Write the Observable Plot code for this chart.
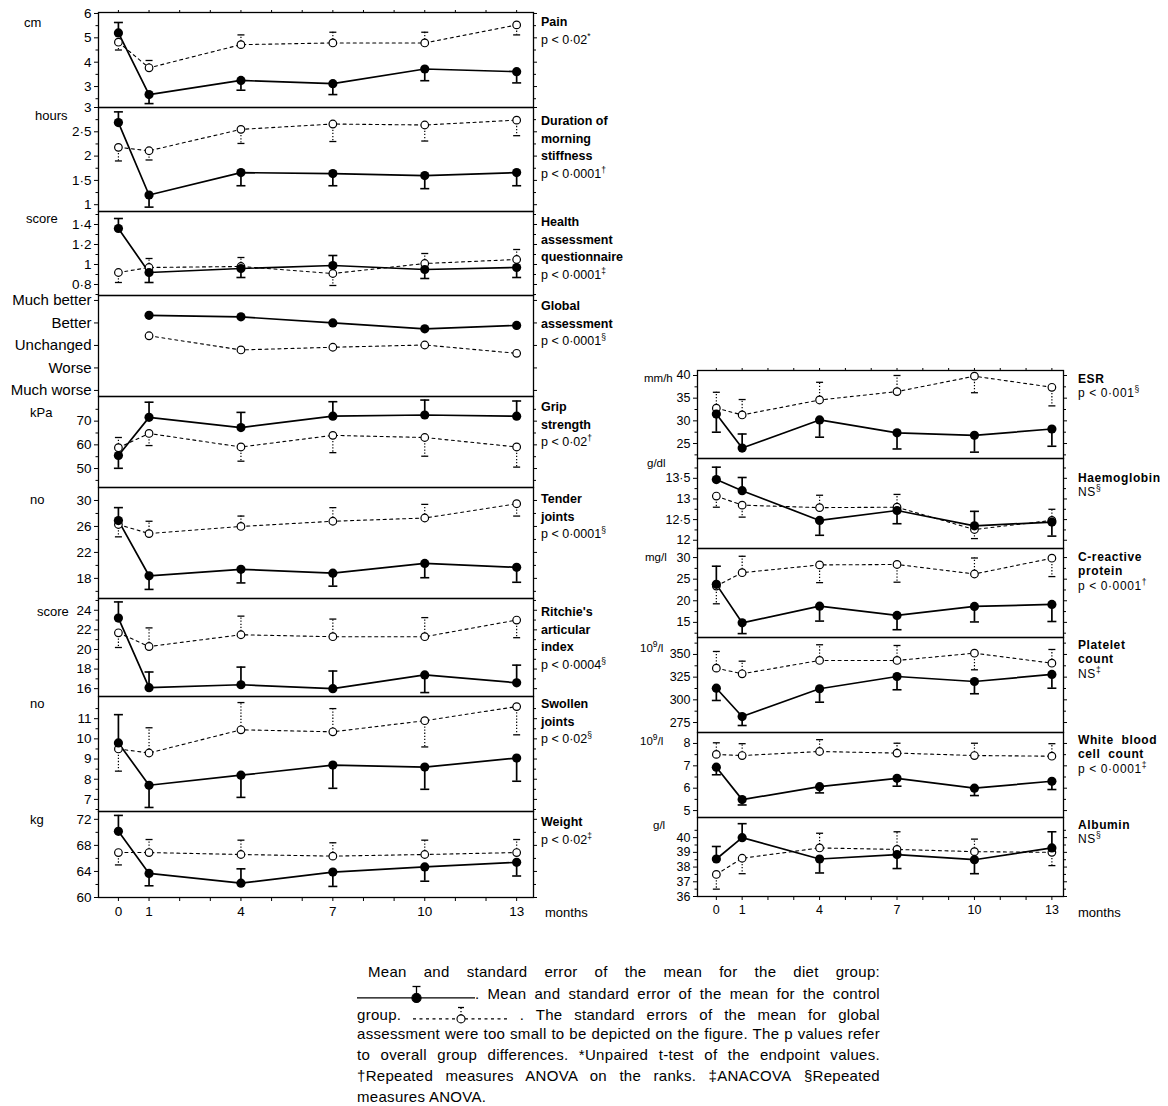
<!DOCTYPE html>
<html><head><meta charset="utf-8">
<script src="https://cdn.jsdelivr.net/npm/d3@7"></script>
<script src="https://cdn.jsdelivr.net/npm/@observablehq/plot@0.6"></script>
<style>
body{margin:0;background:#fff;color:#000;font-family:"Liberation Sans",Arial,sans-serif}
#root{position:relative;width:1168px;height:1106px;overflow:hidden;background:#fff}
.lab{position:absolute;white-space:nowrap;color:#000}
.unit{font-size:13px;line-height:16px}
.unitR{font-size:11.5px;line-height:16px}
.tl{font-size:12.5px;line-height:17.5px}
.tl b{font-weight:bold}
.tr{font-size:12px;line-height:14.5px;letter-spacing:0.6px}
.tr b{font-weight:bold}
sup{font-size:8.5px;line-height:0;vertical-align:5px}
#cap{position:absolute;left:357px;top:962px;width:523px;font-size:15px;line-height:20.8px;letter-spacing:0.3px}
#cap div{text-align:justify;text-align-last:justify;white-space:nowrap;height:20.8px}
#cap div.last{text-align-last:left}
#cap svg{display:inline-block;vertical-align:-4px}
#cap span.kw{display:inline-block}
</style>
</head><body><div id="root"></div>
<script>
// ---------- data ----------
const months = [0, 1, 4, 7, 10, 13];
const monthLabels = [0, 1, 4, 7, 10, 13];

const painDiet = [5.2, 2.67, 3.25, 3.12, 3.72, 3.61];
const painDietErr = [5.63, 2.3, 2.85, 2.67, 3.24, 3.15];
const painCtrl = [4.82, 3.77, 4.72, 4.79, 4.79, 5.53];
const painCtrlErr = [4.5, 4.07, 5.12, 5.23, 5.23, 5.12];
const painTicks = [3, 4, 5, 6];

const stiffDiet = [2.69, 1.2, 1.66, 1.64, 1.6, 1.66];
const stiffDietErr = [2.91, 0.95, 1.39, 1.39, 1.33, 1.39];
const stiffCtrl = [2.18, 2.11, 2.55, 2.66, 2.64, 2.74];
const stiffCtrlErr = [1.9, 1.92, 2.26, 2.3, 2.31, 2.42];
const stiffTicks = [1, 1.5, 2, 2.5, 3];

const haqDiet = [1.36, 0.92, 0.96, 0.99, 0.95, 0.97];
const haqDietErr = [1.46, 0.82, 0.87, 1.09, 0.86, 0.87];
const haqCtrl = [0.92, 0.97, 0.98, 0.91, 1.01, 1.05];
const haqCtrlErr = [0.82, 1.06, 1.07, 0.79, 1.11, 1.15];
const haqTicks = [0.8, 1, 1.2, 1.4];

const globalDiet = [null, 4.34, 4.27, 4.0, 3.74, 3.89];
const globalCtrl = [null, 3.43, 2.8, 2.92, 3.02, 2.65];
const globalTicks = [1, 2, 3, 4, 5];
const globalCategories = ["Much worse", "Worse", "Unchanged", "Better", "Much better"];

const gripDiet = [55.5, 71.6, 67.3, 72.1, 72.6, 72.1];
const gripDietErr = [50.1, 78, 73.7, 78.2, 78.9, 78.5];
const gripCtrl = [58.8, 64.8, 59.1, 64.0, 63.1, 59.1];
const gripCtrlErr = [63.1, 59.7, 53.1, 56.7, 55.2, 50.6];
const gripTicks = [50, 60, 70];

const tenderDiet = [26.9, 18.4, 19.4, 18.8, 20.3, 19.7];
const tenderDietErr = [28.9, 16.3, 17.3, 16.8, 18.1, 17.4];
const tenderCtrl = [26.3, 24.9, 26.0, 26.8, 27.3, 29.5];
const tenderCtrlErr = [24.4, 26.8, 27.6, 28.9, 29.4, 27.6];
const tenderTicks = [18, 22, 26, 30];

const ritchieDiet = [23.2, 16.1, 16.4, 16.0, 17.4, 16.6];
const ritchieDietErr = [24.85, 17.7, 18.2, 17.8, 15.6, 18.4];
const ritchieCtrl = [21.7, 20.3, 21.5, 21.3, 21.3, 23.0];
const ritchieCtrlErr = [20.2, 22.2, 23.4, 23.1, 23.25, 21.2];
const ritchieTicks = [16, 18, 20, 22, 24];

const swollenDiet = [9.8, 7.7, 8.2, 8.7, 8.6, 9.05];
const swollenDietErr = [11.2, 6.6, 7.1, 7.55, 7.5, 7.9];
const swollenCtrl = [9.5, 9.3, 10.45, 10.35, 10.9, 11.6];
const swollenCtrlErr = [8.4, 10.55, 11.8, 11.5, 9.6, 10.2];
const swollenTicks = [7, 8, 9, 10, 11];

const weightDiet = [70.15, 63.7, 62.2, 63.9, 64.7, 65.4];
const weightDietErr = [72.6, 61.8, 64.4, 61.7, 62.5, 63.3];
const weightCtrl = [66.9, 66.9, 66.6, 66.35, 66.6, 66.9];
const weightCtrlErr = [65.0, 68.9, 68.8, 68.4, 68.8, 68.9];
const weightTicks = [60, 64, 68, 72];

const esrDiet = [31.5, 24.0, 30.2, 27.35, 26.8, 28.2];
const esrDietErr = [27.5, 27.1, 26.4, 23.8, 23.1, 24.4];
const esrCtrl = [32.8, 31.3, 34.6, 36.45, 39.85, 37.4];
const esrCtrlErr = [36.3, 34.7, 38.5, 40.0, 36.2, 33.3];
const esrTicks = [25, 30, 35, 40];

const hbDiet = [13.47, 13.2, 12.48, 12.72, 12.35, 12.44];
const hbDietErr = [13.77, 13.52, 12.12, 12.4, 12.7, 12.1];
const hbCtrl = [13.07, 12.85, 12.79, 12.8, 12.26, 12.48];
const hbCtrlErr = [12.8, 12.56, 13.09, 13.11, 12.04, 12.75];
const hbTicks = [12, 12.5, 13, 13.5];

const crpDiet = [23.8, 14.9, 18.75, 16.6, 18.7, 19.15];
const crpDietErr = [28.0, 12.4, 15.3, 13.3, 15.1, 15.2];
const crpCtrl = [23.4, 26.5, 28.3, 28.4, 26.2, 29.85];
const crpCtrlErr = [19.3, 30.3, 24.2, 24.3, 29.9, 25.6];
const crpTicks = [15, 20, 25, 30];

const pltDiet = [312.8, 281.6, 312.2, 325.7, 320.2, 328];
const pltDietErr = [299.3, 271.7, 297.4, 311.1, 306.7, 312.8];
const pltCtrl = [334.9, 328.7, 343.4, 343.4, 351.4, 340.4];
const pltCtrlErr = [353.3, 342.6, 360.7, 359.9, 333.1, 355.5];
const pltTicks = [275, 300, 325, 350];

const wbcDiet = [6.94, 5.49, 6.07, 6.44, 6.0, 6.31];
const wbcDietErr = [6.6, 5.25, 5.79, 6.09, 5.67, 5.94];
const wbcCtrl = [7.51, 7.46, 7.64, 7.57, 7.46, 7.43];
const wbcCtrlErr = [8.03, 7.99, 8.17, 8.01, 8.01, 7.99];
const wbcTicks = [5, 6, 7, 8];

const albDiet = [38.55, 40.0, 38.55, 38.85, 38.5, 39.3];
const albDietErr = [39.4, 40.95, 37.6, 37.9, 37.55, 40.4];
const albCtrl = [37.5, 38.6, 39.3, 39.2, 39.05, 39.0];
const albCtrlErr = [36.5, 37.55, 40.3, 40.4, 39.9, 38.1];
const albTicks = [36, 37, 38, 39, 40];

// ---------- layout ----------
const root = document.getElementById("root");
const FONT = '"Liberation Sans", Arial, sans-serif';
const dec = d => String(d).replace(".", "\u00b7");

const leftCol = {left: 0, width: 640, ml: 98, mr: 107, xdom: [-0.65, 13.55], font: 13.5, titleX: 541, monthsX: 545, tcls: "tl", lh: 17.5, ucls: "unit"};
const rightCol = {left: 600, width: 500, ml: 97, mr: 37, xdom: [-0.73, 13.45], font: 12.5, titleX: 1078, monthsX: 1078, tcls: "tr", lh: 14.5, ucls: "unitR"};

const leftPanels = [
  {diet: painDiet, dietErr: painDietErr, ctrl: painCtrl, ctrlErr: painCtrlErr, ticks: painTicks, domain: [2.14, 6.04], top: 12, bottom: 107,
   unit: "cm", ux: 24, uy: 23, title: ["Pain"], p: "p < 0\u00b702<sup>*</sup>", ty: 23},
  {diet: stiffDiet, dietErr: stiffDietErr, ctrl: stiffCtrl, ctrlErr: stiffCtrlErr, ticks: stiffTicks, domain: [0.86, 3.0], top: 107, bottom: 211,
   unit: "hours", ux: 35, uy: 116, title: ["Duration of", "morning", "stiffness"], p: "p < 0\u00b70001<sup>\u2020</sup>", ty: 122},
  {diet: haqDiet, dietErr: haqDietErr, ctrl: haqCtrl, ctrlErr: haqCtrlErr, ticks: haqTicks, domain: [0.69, 1.53], top: 211, bottom: 295,
   unit: "score", ux: 26, uy: 219, title: ["Health", "assessment", "questionnaire"], p: "p < 0\u00b70001<sup>\u2021</sup>", ty: 223},
  {diet: globalDiet, dietErr: null, ctrl: globalCtrl, ctrlErr: null, ticks: globalTicks, domain: [0.73, 5.22], top: 295, bottom: 396,
   fmt: d => globalCategories[d - 1], noMinor: true, fontSize: 15,
   unit: "", title: ["Global", "assessment"], p: "p < 0\u00b70001<sup>\u00a7</sup>", ty: 307},
  {diet: gripDiet, dietErr: gripDietErr, ctrl: gripCtrl, ctrlErr: gripCtrlErr, ticks: gripTicks, domain: [42, 80.4], top: 396, bottom: 487,
   unit: "kPa", ux: 30, uy: 413, title: ["Grip", "strength"], p: "p < 0\u00b702<sup>\u2020</sup>", ty: 408},
  {diet: tenderDiet, dietErr: tenderDietErr, ctrl: tenderCtrl, ctrlErr: tenderCtrlErr, ticks: tenderTicks, domain: [14.9, 32], top: 487, bottom: 598,
   unit: "no", ux: 30, uy: 500, title: ["Tender", "joints"], p: "p < 0\u00b70001<sup>\u00a7</sup>", ty: 500},
  {diet: ritchieDiet, dietErr: ritchieDietErr, ctrl: ritchieCtrl, ctrlErr: ritchieCtrlErr, ticks: ritchieTicks, domain: [15.2, 25.2], top: 598, bottom: 696,
   unit: "score", ux: 37, uy: 612, title: ["Ritchie's", "articular", "index"], p: "p < 0\u00b70004<sup>\u00a7</sup>", ty: 613},
  {diet: swollenDiet, dietErr: swollenDietErr, ctrl: swollenCtrl, ctrlErr: swollenCtrlErr, ticks: swollenTicks, domain: [6.4, 12.1], top: 696, bottom: 811,
   unit: "no", ux: 30, uy: 704, title: ["Swollen", "joints"], p: "p < 0\u00b702<sup>\u00a7</sup>", ty: 705},
  {diet: weightDiet, dietErr: weightDietErr, ctrl: weightCtrl, ctrlErr: weightCtrlErr, ticks: weightTicks, domain: [60, 73.2], top: 811, bottom: 897,
   unit: "kg", ux: 30, uy: 820, title: ["Weight"], p: "p < 0\u00b702<sup>\u2021</sup>", ty: 823}
];

const rightPanels = [
  {diet: esrDiet, dietErr: esrDietErr, ctrl: esrCtrl, ctrlErr: esrCtrlErr, ticks: esrTicks, domain: [21.7, 41.1], top: 370, bottom: 458,
   unit: "mm/h", ux: 644, uy: 378, title: ["ESR"], p: "p < 0\u00b7001<sup>\u00a7</sup>", ty: 379},
  {diet: hbDiet, dietErr: hbDietErr, ctrl: hbCtrl, ctrlErr: hbCtrlErr, ticks: hbTicks, domain: [11.8, 13.98], top: 458, bottom: 548,
   unit: "g/dl", ux: 647, uy: 463, title: ["Haemoglobin"], p: "NS<sup>\u00a7</sup>", ty: 478},
  {diet: crpDiet, dietErr: crpDietErr, ctrl: crpCtrl, ctrlErr: crpCtrlErr, ticks: crpTicks, domain: [11.5, 32.1], top: 548, bottom: 637,
   unit: "mg/l", ux: 645, uy: 557, title: ["C-reactive", "protein"], p: "p < 0\u00b70001<sup>\u2020</sup>", ty: 557},
  {diet: pltDiet, dietErr: pltDietErr, ctrl: pltCtrl, ctrlErr: pltCtrlErr, ticks: pltTicks, domain: [264, 368.7], top: 637, bottom: 732,
   unit: "10<sup>9</sup>/l", ux: 640, uy: 648, title: ["Platelet", "count"], p: "NS<sup>\u2021</sup>", ty: 645},
  {diet: wbcDiet, dietErr: wbcDietErr, ctrl: wbcCtrl, ctrlErr: wbcCtrlErr, ticks: wbcTicks, domain: [4.69, 8.49], top: 732, bottom: 817,
   unit: "10<sup>9</sup>/l", ux: 640, uy: 741, title: ["White  blood", "cell  count"], p: "p < 0\u00b70001<sup>\u2021</sup>", ty: 740},
  {diet: albDiet, dietErr: albDietErr, ctrl: albCtrl, ctrlErr: albCtrlErr, ticks: albTicks, domain: [36, 41.37], top: 817, bottom: 896,
   unit: "g/l", ux: 653, uy: 825, title: ["Albumin"], p: "NS<sup>\u00a7</sup>", ty: 825}
];

// error-bar cap: a short horizontal stroke, half-width = r
const cap = {draw(ctx, size) { const w = Math.sqrt(size / Math.PI); ctx.moveTo(-w, 0); ctx.lineTo(w, 0); }};

function addLabel(x, y, html, cls, lh) {
  const d = document.createElement("div");
  d.className = "lab " + cls;
  d.style.left = x + "px";
  d.style.top = (y - lh / 2) + "px";
  d.innerHTML = html;
  root.append(d);
}

function makePanel(p, col, first, last) {
  const pad = 6, mb = last ? 34 : pad;
  const rows = (vals, errs) => months.map((m, i) => ({m, v: vals[i], e: errs ? errs[i] : null})).filter(d => d.v != null);
  const diet = rows(p.diet, p.dietErr), ctrl = rows(p.ctrl, p.ctrlErr);
  const dietE = diet.filter(d => d.e != null), ctrlE = ctrl.filter(d => d.e != null);
  const step = p.ticks[1] - p.ticks[0];
  const minor = p.noMinor ? [] : d3.range(p.ticks[0] - step / 2, p.domain[1], step).filter(v => v > p.domain[0]);
  const fmt = p.fmt || dec;
  const fs = p.fontSize || col.font;
  const allMonths = d3.range(0, 14);
  const marks = [
    Plot.frame({stroke: "#000", strokeWidth: 1.3}),
    Plot.axisY({anchor: "left", ticks: p.ticks, tickSize: 4, tickPadding: 3, tickFormat: fmt, fontSize: fs, label: null}),
    Plot.axisY({anchor: "right", ticks: p.ticks, tickSize: 3, tickFormat: () => "", label: null})
  ];
  if (minor.length) {
    marks.push(Plot.axisY({anchor: "left", ticks: minor, tickSize: 2.5, tickFormat: () => "", label: null}));
    marks.push(Plot.axisY({anchor: "right", ticks: minor, tickSize: 2, tickFormat: () => "", label: null}));
  }
  if (first) marks.push(Plot.axisX({anchor: "top", ticks: allMonths, tickSize: 3, tickFormat: () => "", label: null}));
  if (last) marks.push(Plot.axisX({anchor: "bottom", ticks: allMonths, tickSize: 4, tickPadding: 5,
    tickFormat: d => monthLabels.includes(d) ? String(d) : "", fontSize: col.font, label: null}));
  marks.push(
    Plot.line(ctrl, {x: "m", y: "v", stroke: "#000", strokeWidth: 1.1, strokeDasharray: "3,3.5"}),
    Plot.line(diet, {x: "m", y: "v", stroke: "#000", strokeWidth: 1.7}),
    Plot.ruleX(ctrlE, {x: "m", y1: "v", y2: "e", stroke: "#000", strokeWidth: 1.2, strokeDasharray: "1.3,1.8"}),
    Plot.dot(ctrlE, {x: "m", y: "e", symbol: cap, r: 3.5, fill: "none", stroke: "#000", strokeWidth: 1.3}),
    Plot.ruleX(dietE, {x: "m", y1: "v", y2: "e", stroke: "#000", strokeWidth: 1.7}),
    Plot.dot(dietE, {x: "m", y: "e", symbol: cap, r: 4.5, fill: "none", stroke: "#000", strokeWidth: 1.6}),
    Plot.dot(ctrl, {x: "m", y: "v", r: 3.8, fill: "#fff", stroke: "#000", strokeWidth: 1.2}),
    Plot.dot(diet, {x: "m", y: "v", r: 4.6, fill: "#000", stroke: "none"})
  );
  const svg = Plot.plot({
    width: col.width, height: (p.bottom - p.top) + pad + mb,
    marginLeft: col.ml, marginRight: col.mr, marginTop: pad, marginBottom: mb,
    style: {fontFamily: FONT, fontSize: col.font + "px", color: "#000", background: "transparent", overflow: "visible"},
    x: {domain: col.xdom, axis: null},
    y: {domain: p.domain, axis: null},
    marks
  });
  svg.style.position = "absolute";
  svg.style.left = col.left + "px";
  svg.style.top = (p.top - pad) + "px";
  svg.style.maxWidth = "none";
  root.append(svg);

  if (p.unit) addLabel(p.ux, p.uy, p.unit, col.ucls, 16);
  const titleHtml = p.title.map(t => "<b>" + t.replace(/  /g, "&nbsp;&nbsp;") + "</b>").join("<br>") + "<br>" + p.p;
  addLabel(col.titleX, p.ty, titleHtml, col.tcls, col.lh);
  if (last) addLabel(col.monthsX, 913, "months", "unit", 16);
}

leftPanels.forEach((p, i) => makePanel(p, leftCol, i === 0, i === leftPanels.length - 1));
rightPanels.forEach((p, i) => makePanel(p, rightCol, i === 0, i === rightPanels.length - 1));

// ---------- caption with legend glyphs ----------
const legendKeys = [
  {group: "diet", dash: null, lineW: 1.4, r: 4.6, fill: "#000", capR: 4, err: "solid"},
  {group: "control", dash: "3,3.5", lineW: 1.1, r: 4, fill: "#fff", capR: 3, err: "1.3,1.8"}
];
function glyph(k, w) {
  const mid = [{x: 0.5, y: 0.28, e: 0.85}];
  return Plot.plot({
    width: w, height: 20, margin: 0,
    style: {background: "transparent", overflow: "visible"},
    x: {domain: [0, 1], axis: null}, y: {domain: [0, 1], axis: null},
    marks: [
      Plot.ruleY(mid, {y: "y", stroke: "#000", strokeWidth: k.lineW, strokeDasharray: k.dash}),
      Plot.ruleX(mid, {x: "x", y1: "y", y2: "e", stroke: "#000", strokeWidth: 1.3, strokeDasharray: k.err === "solid" ? null : k.err}),
      Plot.dot(mid, {x: "x", y: "e", symbol: cap, r: k.capR, stroke: "#000", fill: "none", strokeWidth: 1.3}),
      Plot.dot(mid, {x: "x", y: "y", r: k.r, fill: k.fill, stroke: "#000", strokeWidth: 1.1})
    ]
  });
}
const capDiv = document.createElement("div");
capDiv.id = "cap";
root.append(capDiv);
const lines = [
  "Mean and standard error of the mean for the diet group:",
  "@diet. Mean and standard error of the mean for the control",
  "group. @control . The standard errors of the mean for global",
  "assessment were too small to be depicted on the figure. The p values refer",
  "to overall group differences. *Unpaired t-test of the endpoint values.",
  "\u2020Repeated measures ANOVA on the ranks. \u2021ANACOVA \u00a7Repeated",
  "measures ANOVA."
];
lines.forEach((t, i) => {
  const d = document.createElement("div");
  if (i === 0) d.style.paddingLeft = "11px";
  if (i === lines.length - 1) d.className = "last";
  const parts = t.split(/(@diet|@control|[\u2020\u2021\u00a7]\w+)/);
  parts.forEach(s => {
    if (s === "@diet") d.append(glyph(legendKeys[0], 118));
    else if (s === "@control") d.append(glyph(legendKeys[1], 95));
    else if (/^[\u2020\u2021\u00a7]/.test(s)) {
      const sp = document.createElement("span");
      sp.className = "kw";
      sp.textContent = s;
      d.append(sp);
    }
    else if (s) d.append(document.createTextNode(s));
  });
  capDiv.append(d);
});
</script>
</body></html>
